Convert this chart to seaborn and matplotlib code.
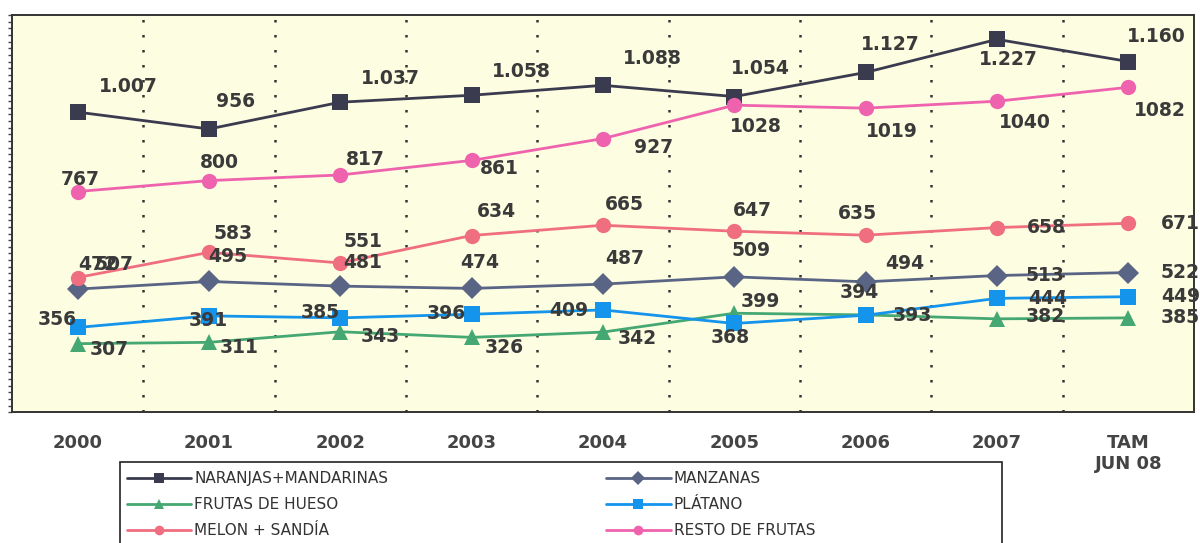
import pandas as pd
import seaborn as sns
import matplotlib.pyplot as plt
from matplotlib.patches import Rectangle
from matplotlib.ticker import FixedLocator, MultipleLocator, NullFormatter

# Chart data
years = ["2000", "2001", "2002", "2003", "2004", "2005", "2006", "2007", "TAM\nJUN 08"]

naranjas = [1007, 956, 1037, 1058, 1088, 1054, 1127, 1227, 1160]
manzanas = [472, 495, 481, 474, 487, 509, 494, 513, 522]
hueso = [307, 311, 343, 326, 342, 399, 394, 382, 385]
platano = [356, 391, 385, 396, 409, 368, 393, 444, 449]
melon = [507, 583, 551, 634, 665, 647, 635, 658, 671]
resto = [767, 800, 817, 861, 927, 1028, 1019, 1040, 1082]

names = ["NARANJAS+MANDARINAS", "MANZANAS", "FRUTAS DE HUESO",
         "PLÁTANO", "MELON + SANDÍA", "RESTO DE FRUTAS"]
values = [naranjas, manzanas, hueso, platano, melon, resto]

# styles
colors = {"NARANJAS+MANDARINAS": "#3b3b4f", "MANZANAS": "#5a6585",
          "FRUTAS DE HUESO": "#45a872", "PLÁTANO": "#1594ec",
          "MELON + SANDÍA": "#ef6f80", "RESTO DE FRUTAS": "#ee62ae"}
markers = {"NARANJAS+MANDARINAS": "s", "MANZANAS": "D", "FRUTAS DE HUESO": "^",
           "PLÁTANO": "s", "MELON + SANDÍA": "o", "RESTO DE FRUTAS": "o"}

# label offsets in pixels (dx, dy) from each marker
offsets = {
    "NARANJAS+MANDARINAS": [(51, 26), (27, 27), (50, 24), (50, 24), (49, 27), (26, 28), (25, 28), (11, -20), (28, 25)],
    "MANZANAS": [(20, 25), (19, 25), (22, 24), (8, 26), (22, 26), (17, 26), (39, 18), (48, 0), (52, 0)],
    "FRUTAS DE HUESO": [(32, -6), (30, -5), (40, -5), (33, -10), (34, -6), (26, 12), (-6, 22), (48, 2), (52, 0)],
    "PLÁTANO": [(-20, 8), (-1, -5), (-20, 5), (-25, 1), (-34, -1), (-4, -14), (47, 0), (51, 0), (52, 0)],
    "MELON + SANDÍA": [(36, 13), (24, 19), (23, 21), (25, 24), (21, 21), (18, 21), (-8, 22), (49, 0), (52, 0)],
    "RESTO DE FRUTAS": [(3, 12), (10, 18), (25, 15), (28, -8), (51, -9), (22, -21), (26, -23), (28, -21), (32, -23)],
}

rows = []
for name, vals in zip(names, values):
    for yr, v in zip(years, vals):
        rows.append({"year": yr, "value": v, "serie": name})
df = pd.DataFrame(rows)

sns.set_style("white")
plt.rcParams["font.family"] = ["DejaVu Sans"]

fig = plt.figure(figsize=(12, 5.43), dpi=100)
ax = fig.add_axes([0.01, 0.241, 0.985, 0.731])
ax.set_facecolor("#fdfde1")

sns.lineplot(data=df, x="year", y="value", hue="serie", style="serie",
             hue_order=names, style_order=names, palette=colors,
             markers=markers, dashes=False, markersize=11, linewidth=2,
             markeredgewidth=0, sort=False, ax=ax)

# data labels
for name, vals in zip(names, values):
    for i, v in enumerate(vals):
        txt = f"{v:,}".replace(",", ".") if name == "NARANJAS+MANDARINAS" else str(v)
        dx, dy = offsets[name][i]
        ax.annotate(txt, (i, v), xytext=(dx, dy), textcoords="offset pixels",
                    ha="center", va="center", fontsize=13.5, fontweight="bold",
                    color="#3a3a3a")

ax.set_xlim(-0.5, 8.5)
ax.set_ylim(100, 1300)
ax.set_xlabel("")
ax.set_ylabel("")

# x axis: labels at centres, ticks + dotted grid at boundaries
ax.set_xticks(range(len(years)))
ax.set_xticklabels(years, fontsize=13, fontweight="bold", color="#444444")
ax.tick_params(axis="x", which="major", length=0, pad=16)
ax.xaxis.set_minor_locator(FixedLocator([i + 0.5 for i in range(len(years) - 1)]))
ax.tick_params(axis="x", which="minor", length=5, direction="inout", color="#333333", width=1.2)
ax.grid(which="minor", axis="x", linestyle=(0, (1, 5)), color="#333333", linewidth=1.8)

ax.set_yticks([])
ax.yaxis.set_minor_locator(MultipleLocator(20))
ax.yaxis.set_minor_formatter(NullFormatter())
ax.tick_params(axis="y", which="minor", length=3, direction="out", color="#444444", width=1, left=True)

for s in ax.spines.values():
    s.set_visible(True)
    s.set_color("#333333")
    s.set_linewidth(1.4)

# legend box (runs off the bottom of the figure like the original)
W, H = 1200, 543
fig.patches.append(Rectangle((120 / W, -30 / H), 882 / W, (H - 462 + 30) / H,
                             transform=fig.transFigure, facecolor="white",
                             edgecolor="#222222", linewidth=1.2, zorder=1))

handles, labels = ax.get_legend_handles_labels()
hmap = dict(zip(labels, handles))
leg_order = ["NARANJAS+MANDARINAS", "FRUTAS DE HUESO", "MELON + SANDÍA",
             "MANZANAS", "PLÁTANO", "RESTO DE FRUTAS"]
leg_handles = [hmap[n] for n in leg_order]
for h in leg_handles:
    h.set_markersize(7)
leg = fig.legend(leg_handles, leg_order, loc="upper left", bbox_to_anchor=(127 / W, 1 - 471 / H),
                 ncol=2, fontsize=11, frameon=False,
                 handlelength=4.2, handletextpad=0.2, columnspacing=14.28, borderpad=0,
                 labelspacing=0.72, borderaxespad=0)
leg.set_zorder(2)
for t in leg.get_texts():
    t.set_color("#333333")
if ax.get_legend():
    ax.get_legend().remove()

fig.savefig("out.png", dpi=100, facecolor="white")
